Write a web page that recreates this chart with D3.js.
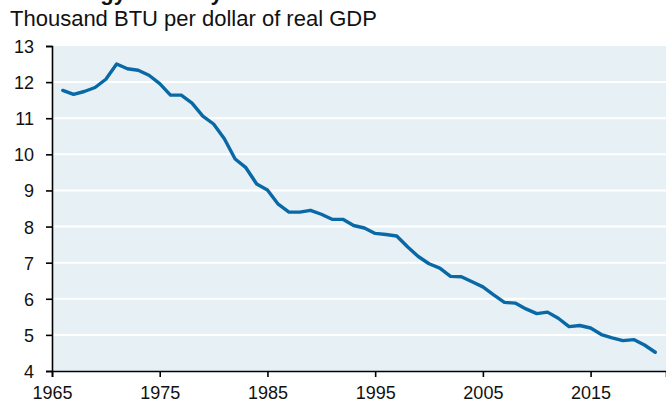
<!DOCTYPE html>
<html>
<head>
<meta charset="utf-8">
<script src="https://cdn.jsdelivr.net/npm/d3@7"></script>
<style>
  body { margin: 0; background: #fff; }
  svg { display: block; font-family: Arial, "Liberation Sans", sans-serif; }
</style>
</head>
<body>
<div id="chart"></div>
<script>
// Datos
const years = [1966, 1967, 1968, 1969, 1970, 1971, 1972, 1973, 1974, 1975,
    1976, 1977, 1978, 1979, 1980, 1981, 1982, 1983, 1984, 1985,
    1986, 1987, 1988, 1989, 1990, 1991, 1992, 1993, 1994, 1995,
    1996, 1997, 1998, 1999, 2000, 2001, 2002, 2003, 2004, 2005,
    2006, 2007, 2008, 2009, 2010, 2011, 2012, 2013, 2014, 2015,
    2016, 2017, 2018, 2019, 2020, 2021];
const intensity = [11.77, 11.66, 11.74, 11.85, 12.08, 12.50, 12.37, 12.33, 12.19, 11.96,
    11.64, 11.64, 11.42, 11.06, 10.84, 10.43, 9.87, 9.63, 9.18, 9.01,
    8.62, 8.40, 8.40, 8.45, 8.34, 8.20, 8.20, 8.03, 7.96, 7.81,
    7.78, 7.74, 7.44, 7.17, 6.97, 6.85, 6.62, 6.61, 6.47, 6.33,
    6.11, 5.90, 5.88, 5.72, 5.59, 5.63, 5.46, 5.23, 5.26, 5.19,
    5.01, 4.92, 4.84, 4.87, 4.72, 4.52];
const yTicks = [4, 5, 6, 7, 8, 9, 10, 11, 12, 13];
const xTicks = [1965, 1975, 1985, 1995, 2005, 2015];
const title = 'U.S. energy intensity';
const subtitle = 'Thousand BTU per dollar of real GDP';

const width = 666, height = 404;
const margin = { top: 46, right: 0, bottom: 33, left: 52 };

const svg = d3.select('#chart').append('svg')
    .attr('width', width)
    .attr('height', height);

const x = d3.scaleLinear().domain([1965, 2022]).range([margin.left, width - margin.right]);
const y = d3.scaleLinear().domain([4, 13]).range([height - margin.bottom, margin.top]);

// Fondo del area de trazado
svg.append('rect')
    .attr('x', x(1965))
    .attr('y', y(13))
    .attr('width', x(2022) - x(1965))
    .attr('height', y(4) - y(13))
    .attr('fill', '#e7f0f4');

// Lineas de cuadricula
svg.append('g')
    .selectAll('line')
    .data(yTicks.filter(d => d > 4 && d < 13))
    .enter().append('line')
    .attr('x1', x(1965))
    .attr('x2', x(2022))
    .attr('y1', d => y(d))
    .attr('y2', d => y(d))
    .attr('stroke', '#fff')
    .attr('stroke-width', 2);

// Ejes
const yAxis = svg.append('g')
    .attr('transform', `translate(${x(1965)},0)`)
    .call(d3.axisLeft(y).tickValues(yTicks).tickSize(6).tickPadding(12).tickFormat(d3.format('d')));

const xAxis = svg.append('g')
    .attr('transform', `translate(0,${y(4)})`)
    .call(d3.axisBottom(x).tickValues(xTicks).tickSize(6).tickPadding(9).tickFormat(d3.format('d')));

[yAxis, xAxis].forEach(a => {
    a.select('.domain').attr('stroke', '#000').attr('stroke-width', 1.6);
    a.selectAll('.tick line').attr('stroke', '#000').attr('stroke-width', 1.6);
    a.selectAll('.tick text')
        .attr('fill', '#111')
        .attr('font-size', '18px')
        .attr('font-family', 'Arial, "Liberation Sans", sans-serif');
});
yAxis.selectAll('.tick text').attr('dy', '0.36em');

// Linea de datos
const line = d3.line()
    .x((d, i) => x(years[i]))
    .y(d => y(d));

svg.append('path')
    .datum(intensity)
    .attr('fill', 'none')
    .attr('stroke', '#0869a6')
    .attr('stroke-width', 3.4)
    .attr('stroke-linejoin', 'round')
    .attr('stroke-linecap', 'round')
    .attr('d', line);

// Titulos
svg.append('text')
    .attr('x', 5)
    .attr('y', 0)
    .attr('font-size', '22px')
    .attr('font-weight', 'bold')
    .attr('fill', '#111')
    .text(title);

svg.append('text')
    .attr('x', 10)
    .attr('y', 26)
    .attr('font-size', '22px')
    .attr('fill', '#111')
    .text(subtitle);
</script>
</body>
</html>
